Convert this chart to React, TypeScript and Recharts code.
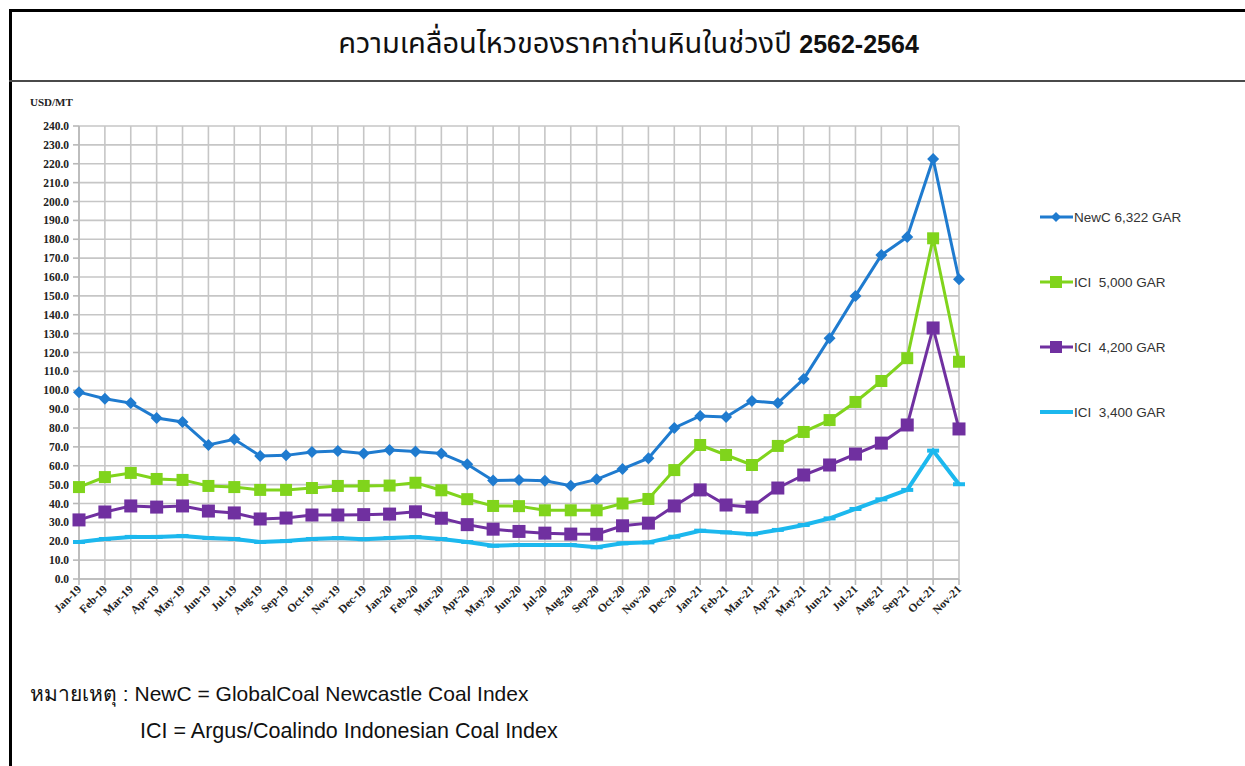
import React from "react";
import { LineChart, Line, XAxis, YAxis, CartesianGrid } from "recharts";

const months = [
  "Jan-19", "Feb-19", "Mar-19", "Apr-19", "May-19", "Jun-19", "Jul-19", "Aug-19", "Sep-19", "Oct-19", "Nov-19", "Dec-19",
  "Jan-20", "Feb-20", "Mar-20", "Apr-20", "May-20", "Jun-20", "Jul-20", "Aug-20", "Sep-20", "Oct-20", "Nov-20", "Dec-20",
  "Jan-21", "Feb-21", "Mar-21", "Apr-21", "May-21", "Jun-21", "Jul-21", "Aug-21", "Sep-21", "Oct-21", "Nov-21",
];

const newc = [
  99, 95.5, 93.2, 85.3, 83.2, 71, 74, 65.2, 65.5, 67.3, 67.8, 66.5,
  68.3, 67.6, 66.5, 60.8, 52.2, 52.4, 52, 49.4, 52.8, 58.3, 64, 80,
  86.4, 85.8, 94.3, 93.2, 106, 127.6, 150, 171.6, 181.2, 222.5, 158.8,
];

const ici5000 = [
  48.7, 54, 56.2, 53, 52.5, 49.3, 48.7, 47.2, 47.2, 48.2, 49.3, 49.3,
  49.5, 51, 47, 42.3, 38.7, 38.6, 36.4, 36.4, 36.4, 40, 42.4, 57.7,
  71, 65.7, 60.4, 70.5, 77.9, 84.2, 93.8, 104.9, 117, 180.5, 115.1,
];

const ici4200 = [
  31.3, 35.5, 38.7, 38.1, 38.7, 36, 35, 31.8, 32.3, 33.9, 33.9, 34.1,
  34.4, 35.6, 32.2, 28.8, 26.4, 25.2, 24.3, 23.8, 23.7, 28.2, 29.6, 38.7,
  47.2, 39.2, 38.1, 48.2, 55.1, 60.4, 66.2, 72, 81.6, 133, 79.5,
];

const ici3400 = [
  19.6, 21.2, 22.3, 22.3, 22.8, 21.7, 21.2, 19.6, 20.1, 21.2, 21.7, 21.1,
  21.7, 22.2, 21.2, 19.6, 17.6, 18, 18, 18, 16.8, 18.9, 19.4, 22.4,
  25.6, 24.7, 23.7, 26, 28.6, 32.1, 37.1, 42.2, 47.2, 68, 50.2,
];

const yTicks = [0, 10, 20, 30, 40, 50, 60, 70, 80, 90, 100, 110, 120, 130, 140, 150, 160, 170, 180, 190, 200, 210, 220, 230, 240];

const seriesNames = ["NewC 6,322 GAR", "ICI  5,000 GAR", "ICI  4,200 GAR", "ICI  3,400 GAR"];

const COLORS = ["#1f7bcf", "#80d41c", "#7030a0", "#1cb8ee"];

const data = months.map((m, i) => ({
  month: m,
  newc: newc[i],
  ici5000: ici5000[i],
  ici4200: ici4200[i],
  ici3400: ici3400[i],
}));

const Diamond = (props: any) => {
  const { cx, cy } = props;
  if (cx == null || cy == null) return null;
  const r = 6;
  return <polygon points={`${cx},${cy - r} ${cx + r},${cy} ${cx},${cy + r} ${cx - r},${cy}`} fill={COLORS[0]} />;
};

const makeSquare = (color: string, s: number) => (props: any) => {
  const { cx, cy } = props;
  if (cx == null || cy == null) return null;
  return <rect x={cx - s / 2} y={cy - s / 2} width={s} height={s} fill={color} />;
};

const Dash = (props: any) => {
  const { cx, cy } = props;
  if (cx == null || cy == null) return null;
  return <rect x={cx - 6} y={cy - 2} width={12} height={4} fill={COLORS[3]} />;
};

const XTick = (props: any) => {
  const { x, y, payload } = props;
  return (
    <text
      x={x + 3}
      y={y + 3}
      transform={`rotate(-45, ${x + 3}, ${y + 3})`}
      textAnchor="end"
      fontFamily="'Liberation Serif', serif"
      fontWeight="bold"
      fontSize={11.5}
      fill="#222"
    >
      {payload.value}
    </text>
  );
};

const YTick = (props: any) => {
  const { x, y, payload } = props;
  return (
    <text
      x={x}
      y={y}
      dy={4}
      textAnchor="end"
      fontFamily="'Liberation Serif', serif"
      fontWeight="bold"
      fontSize={11.5}
      fill="#222"
    >
      {Number(payload.value).toFixed(1)}
    </text>
  );
};

const LegendBox = () => {
  const markers = [
    <polygon key="d" points="16,3 21,8 16,13 11,8" fill={COLORS[0]} />,
    <rect key="s1" x={10} y={2} width={12} height={12} fill={COLORS[1]} />,
    <rect key="s2" x={10} y={2} width={12} height={12} fill={COLORS[2]} />,
    <rect key="s3" x={10} y={6} width={12} height={4} fill={COLORS[3]} />,
  ];
  return (
    <div style={{ position: "absolute", left: 1040, top: 209 }}>
      {seriesNames.map((name, i) => (
        <div key={name} style={{ display: "flex", alignItems: "center", height: 16, marginBottom: i < 3 ? 49 : 0 }}>
          <svg width={33} height={16} style={{ display: "block" }}>
            <line x1={0} y1={8} x2={33} y2={8} stroke={COLORS[i]} strokeWidth={i === 3 ? 4 : 3} />
            {markers[i]}
          </svg>
          <span
            style={{
              fontFamily: "'Liberation Sans', Arial, sans-serif",
              fontSize: 13.5,
              color: "#333",
              whiteSpace: "pre",
              marginLeft: 1,
            }}
          >
            {name}
          </span>
        </div>
      ))}
    </div>
  );
};

export default function App() {
  return (
    <div style={{ position: "absolute", left: 0, top: 0, width: 1245, height: 766, background: "#fff", overflow: "hidden" }}>
      {/* frame */}
      <div style={{ position: "absolute", left: 9, top: 9, width: 1236, height: 3, background: "#000" }} />
      <div style={{ position: "absolute", left: 9, top: 9, width: 3, height: 757, background: "#000" }} />
      <div style={{ position: "absolute", left: 9, top: 80, width: 1236, height: 2, background: "#4a4a4a" }} />
      {/* title */}
      <div
        style={{
          position: "absolute",
          left: 12,
          top: 24,
          width: 1233,
          textAlign: "center",
          fontFamily: "'Noto Sans Thai', 'Liberation Sans Narrow', 'Liberation Sans', sans-serif",
          lineHeight: "40px",
          color: "#111",
          whiteSpace: "pre",
        }}
      >
        <span style={{ fontSize: 29 }}>ความเคลื่อนไหวของราคาถ่านหินในช่วงปี </span>
        <b style={{ fontSize: 25, fontFamily: "'Liberation Sans Narrow', 'Liberation Sans', sans-serif" }}>2562-2564</b>
      </div>
      {/* unit label */}
      <div
        style={{
          position: "absolute",
          left: 30,
          top: 96,
          fontFamily: "'Liberation Serif', serif",
          fontWeight: "bold",
          fontSize: 11,
          color: "#222",
        }}
      >
        USD/MT
      </div>
      <div style={{ position: "absolute", left: 0, top: 0 }}>
        <LineChart width={1245} height={766} data={data} margin={{ top: 126, right: 286, bottom: 127, left: 29 }}>
          <CartesianGrid stroke="#c6c6c6" strokeWidth={1.6} />
          <XAxis
            dataKey="month"
            interval={0}
            height={60}
            tick={<XTick />}
            tickSize={6}
            axisLine={{ stroke: "#b8b8b8", strokeWidth: 1.6 }}
            tickLine={{ stroke: "#b8b8b8", strokeWidth: 1.6 }}
          />
          <YAxis
            width={50}
            domain={[0, 240]}
            ticks={yTicks}
            interval={0}
            tick={<YTick />}
            tickSize={6}
            tickMargin={4}
            axisLine={{ stroke: "#b8b8b8", strokeWidth: 1.6 }}
            tickLine={{ stroke: "#b8b8b8", strokeWidth: 1.6 }}
          />
          <Line name={seriesNames[3]} dataKey="ici3400" stroke={COLORS[3]} strokeWidth={4} dot={<Dash />} activeDot={false} isAnimationActive={false} />
          <Line name={seriesNames[2]} dataKey="ici4200" stroke={COLORS[2]} strokeWidth={3} dot={makeSquare(COLORS[2], 13)} activeDot={false} isAnimationActive={false} />
          <Line name={seriesNames[1]} dataKey="ici5000" stroke={COLORS[1]} strokeWidth={3} dot={makeSquare(COLORS[1], 12)} activeDot={false} isAnimationActive={false} />
          <Line name={seriesNames[0]} dataKey="newc" stroke={COLORS[0]} strokeWidth={3} dot={<Diamond />} activeDot={false} isAnimationActive={false} />
        </LineChart>
      </div>
      <LegendBox />
      {/* notes */}
      <div
        style={{
          position: "absolute",
          left: 30,
          top: 677,
          fontFamily: "'Liberation Sans Narrow', 'Liberation Sans', sans-serif",
          fontSize: 21,
          color: "#111",
          whiteSpace: "pre",
        }}
      >
        หมายเหตุ : NewC = GlobalCoal Newcastle Coal Index
      </div>
      <div
        style={{
          position: "absolute",
          left: 140,
          top: 719,
          fontFamily: "'Liberation Sans Narrow', 'Liberation Sans', sans-serif",
          fontSize: 21.5,
          color: "#111",
          whiteSpace: "pre",
        }}
      >
        ICI = Argus/Coalindo Indonesian Coal Index
      </div>
    </div>
  );
}
